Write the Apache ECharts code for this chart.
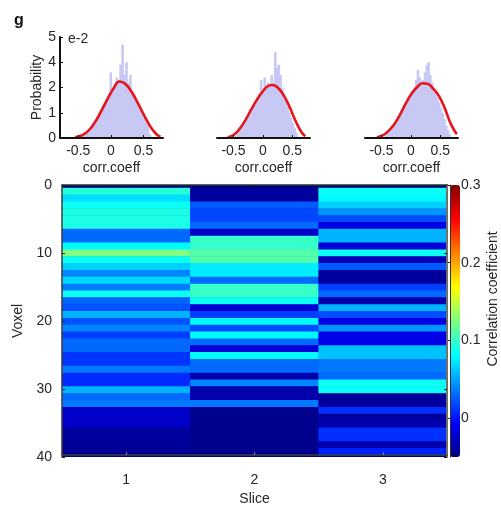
<!DOCTYPE html>
<html>
<head>
<meta charset="utf-8">
<title>Correlation coefficient per voxel and slice</title>
<script src="https://cdn.jsdelivr.net/npm/echarts@6/dist/echarts.min.js"></script>
<style>
  html, body { margin: 0; padding: 0; background: #fff; }
  #main { width: 501px; height: 511px; }
</style>
</head>
<body>
<div id="main"></div>
<script>
// ---- values ----
// histogram y ticks as printed (x1e-2)
var probTickLabels = ['0', '1', '2', '4', '5'];
var corrTicks = [-0.5, 0, 0.5];

// slice 1 histogram (bin centres / probability in tick units)
var bins1 = [-0.48, -0.45, -0.42, -0.39, -0.36, -0.33, -0.30, -0.27, -0.24, -0.21, -0.18, -0.15, -0.12,
  -0.09, -0.06, -0.03, 0.00, 0.03, 0.06, 0.09, 0.12, 0.15, 0.18, 0.21, 0.24, 0.27, 0.30, 0.33, 0.36,
  0.39, 0.42, 0.45, 0.48, 0.51, 0.54, 0.57, 0.60];
var prob1 = [0.05, 0.08, 0.12, 0.15, 0.2, 0.25, 0.3, 0.62, 0.75, 0.85, 1.0, 1.1, 1.3,
  1.4, 1.55, 1.7, 2.6, 1.95, 2.1, 2.4, 2.3, 2.9, 3.7, 2.5, 3.0, 2.2, 2.5, 1.8, 1.6,
  1.45, 1.3, 1.1, 0.95, 0.8, 0.65, 0.5, 0.15];
var fitX1 = [-0.55, -0.45, -0.35, -0.25, -0.15, -0.05, 0.05, 0.13, 0.22, 0.32, 0.42, 0.52, 0.62, 0.70, 0.76];
var fitY1 = [0.03, 0.1, 0.27, 0.6, 1.05, 1.55, 2.0, 2.24, 2.15, 1.82, 1.35, 0.85, 0.4, 0.15, 0.05];

// slice 2 histogram
var bins2 = [-0.48, -0.45, -0.42, -0.39, -0.36, -0.33, -0.30, -0.27, -0.24, -0.21, -0.18, -0.15, -0.12,
  -0.09, -0.06, -0.03, 0.00, 0.03, 0.06, 0.09, 0.12, 0.15, 0.18, 0.21, 0.24, 0.27, 0.30, 0.33, 0.36,
  0.39, 0.42, 0.45, 0.48, 0.51, 0.54, 0.57, 0.60];
var prob2 = [0.05, 0.1, 0.2, 0.3, 0.45, 0.55, 0.7, 0.85, 1.0, 1.15, 1.25, 1.35, 1.45,
  1.6, 1.75, 2.3, 1.9, 2.4, 2.0, 2.2, 2.1, 2.5, 2.2, 3.4, 2.8, 2.9, 2.5, 2.0, 1.7,
  1.5, 1.25, 1.0, 0.8, 0.6, 0.4, 0.2, 0.05];
var fitX2 = [-0.60, -0.50, -0.40, -0.30, -0.20, -0.10, 0.00, 0.08, 0.16, 0.25, 0.35, 0.45, 0.55, 0.65, 0.72];
var fitY2 = [0.03, 0.12, 0.35, 0.7, 1.12, 1.52, 1.85, 2.05, 2.1, 2.0, 1.7, 1.25, 0.7, 0.25, 0.07];

// slice 3 histogram
var bins3 = [-0.45, -0.42, -0.39, -0.36, -0.33, -0.30, -0.27, -0.24, -0.21, -0.18, -0.15, -0.12, -0.09,
  -0.06, -0.03, 0.00, 0.03, 0.06, 0.09, 0.12, 0.15, 0.18, 0.21, 0.24, 0.27, 0.30, 0.33, 0.36, 0.39,
  0.42, 0.45, 0.48, 0.51, 0.54, 0.57, 0.60, 0.63, 0.66];
var prob3 = [0.05, 0.1, 0.2, 0.3, 0.4, 0.5, 0.6, 0.75, 0.9, 1.0, 1.15, 1.3, 1.4,
  1.55, 1.65, 1.8, 1.9, 2.0, 2.3, 2.7, 2.4, 2.2, 2.3, 2.6, 2.9, 3.0, 2.5, 2.2, 2.0,
  1.8, 1.6, 1.4, 1.2, 1.0, 0.75, 0.5, 0.3, 0.15];
var fitX3 = [-0.58, -0.48, -0.38, -0.28, -0.18, -0.08, 0.02, 0.12, 0.20, 0.28, 0.38, 0.48, 0.58, 0.68, 0.78];
var fitY3 = [0.03, 0.1, 0.28, 0.55, 0.95, 1.4, 1.78, 2.05, 2.17, 2.15, 1.95, 1.65, 1.15, 0.55, 0.15];

// heatmap: correlation coefficient per voxel row (top to bottom) for each slice
var sliceLabels = ['1', '2', '3'];
var corrSlice1 = [0.095, 0.07, 0.085, 0.09, 0.09, 0.09, 0.03, 0.03, 0.08, 0.125, 0.085, 0.065, 0.04,
  0.068, 0.036, 0.085, 0.028, 0.022, 0.055, 0.022, 0.04, 0.015, 0.03, 0.03, 0.012, 0.012, 0.035,
  0.008, 0.008, 0.055, 0.03, 0.035, -0.025, -0.025, -0.025, -0.04, -0.04, -0.042, -0.042];
var corrSlice2 = [-0.04, -0.04, 0.025, 0.018, 0.018, 0.03, -0.025, 0.1, 0.1, 0.11, 0.11, 0.075, 0.075,
  0.03, 0.1, 0.1, 0.085, -0.02, 0.015, 0.08, 0.02, 0.08, 0.03, -0.02, 0.08, 0.03, 0.03,
  -0.035, 0.04, -0.035, -0.035, 0.035, -0.045, -0.045, -0.045, -0.045, -0.045, -0.045, -0.045];
var corrSlice3 = [0.085, 0.08, 0.065, 0.045, 0.02, -0.015, 0.055, 0.055, -0.02, 0.085, -0.03, 0.025, -0.04,
  -0.04, 0.015, 0.03, -0.035, 0.055, 0.02, -0.015, 0.045, -0.015, -0.015, 0.06, 0.06, 0.035, 0.035,
  0.03, 0.085, 0.085, -0.04, -0.04, 0.01, -0.04, -0.035, 0.01, 0.01, -0.035, 0.005];
var colorbarTicks = [0, 0.1, 0.2, 0.3];

// ---- chart ----
var chart = echarts.init(document.getElementById('main'), null, { renderer: 'canvas' });

var font = 'Liberation Sans, Arial, sans-serif';
var ink = '#262626';
var jet = ['#000080', '#0000ff', '#0080ff', '#00ffff', '#80ff80', '#ffff00', '#ff8000', '#ff0000', '#800000'];

function pairs(xs, ys) {
  return xs.map(function (x, i) { return [x, ys[i]]; });
}
function corrFmt(v) {
  return v === 0 ? '0' : String(v);
}

var corrColumns = [corrSlice1, corrSlice2, corrSlice3];
var voxelLabels = corrSlice1.map(function (v, i) { return String(i + 1); });
var heatData = [];
corrColumns.forEach(function (col, s) {
  col.forEach(function (v, r) { heatData.push([s, r, v]); });
});

// small histogram panels
var histBoxes = [
  { left: 60, top: 37, width: 103, height: 101 },
  { left: 217, top: 37, width: 93, height: 101 },
  { left: 365, top: 37, width: 93, height: 101 }
];
var histBins = [[bins1, prob1], [bins2, prob2], [bins3, prob3]];
var histFits = [[fitX1, fitY1], [fitX2, fitY2], [fitX3, fitY3]];

var grids = histBoxes.slice();
grids.push({ left: 62, top: 188, width: 385, height: 269 });                              // 3 cells
grids.push({ left: 62, top: 185, width: 385, height: 272, show: true,
  backgroundColor: '#00007a', borderWidth: 0 });                                           // 4 frame
grids.push({ left: 450, top: 185, width: 10, height: 272 });                              // 5 colorbar

var xAxes = [], yAxes = [], series = [];

histBoxes.forEach(function (b, i) {
  xAxes.push({
    gridIndex: i, type: 'value', min: -0.78, max: 0.8, z: 5,
    axisLine: { show: true, onZero: false, lineStyle: { color: '#111', width: 2 } },
    axisTick: { show: true, inside: true, length: 3, customValues: corrTicks, lineStyle: { color: '#111' } },
    axisLabel: { customValues: corrTicks, formatter: corrFmt, margin: 6, color: ink, fontSize: 14, fontFamily: font },
    splitLine: { show: false },
    name: 'corr.coeff', nameLocation: 'middle', nameGap: 23,
    nameTextStyle: { color: ink, fontSize: 14, fontFamily: font }
  });
  yAxes.push({
    gridIndex: i, type: 'value', min: 0, max: 4, interval: 1, show: i === 0, z: 5,
    axisLine: { show: true, onZero: false, lineStyle: { color: '#111', width: 2 } },
    axisTick: { show: true, inside: true, length: 3, lineStyle: { color: '#111' } },
    axisLabel: { formatter: function (v) { return probTickLabels[v]; }, margin: 4, color: ink, fontSize: 14, fontFamily: font },
    splitLine: { show: false },
    name: 'Probability', nameLocation: 'middle', nameGap: 16,
    nameTextStyle: { color: ink, fontSize: 14, fontFamily: font }
  });
  series.push({
    type: 'bar', xAxisIndex: i, yAxisIndex: i, barWidth: 2.6, silent: true,
    itemStyle: { color: '#c8c8f4' },
    data: pairs(histBins[i][0], histBins[i][1])
  });
  series.push({
    type: 'line', xAxisIndex: i, yAxisIndex: i, smooth: true, showSymbol: false, silent: true, z: 3,
    lineStyle: { color: '#e8141c', width: 2.6 },
    data: pairs(histFits[i][0], histFits[i][1])
  });
});

// heatmap cells
xAxes.push({
  gridIndex: 3, type: 'category', data: sliceLabels, position: 'bottom', z: 5,
  axisLine: { show: true, lineStyle: { color: '#404040', width: 1.5 } },
  axisTick: { show: true, inside: true, alignWithLabel: true, length: 3, lineStyle: { color: '#888' } },
  axisLabel: { margin: 18, color: ink, fontSize: 14, fontFamily: font },
  name: 'Slice', nameLocation: 'middle', nameGap: 36,
  nameTextStyle: { color: ink, fontSize: 14, fontFamily: font }
});
yAxes.push({ gridIndex: 3, type: 'category', data: voxelLabels, inverse: true, show: false });

// frame of the heatmap
xAxes.push({
  gridIndex: 4, type: 'category', data: sliceLabels, position: 'top', z: 5,
  axisLine: { show: true, lineStyle: { color: '#303030', width: 1.5 } },
  axisTick: { show: true, inside: true, alignWithLabel: true, length: 3, lineStyle: { color: '#222' } },
  axisLabel: { show: false }
});
yAxes.push({
  gridIndex: 4, type: 'value', min: 0, max: 40, interval: 10, inverse: true, position: 'left', z: 5,
  axisLine: { show: true, lineStyle: { color: '#404040', width: 1.5 } },
  axisTick: { show: true, inside: true, length: 3, lineStyle: { color: '#222' } },
  axisLabel: { margin: 10, color: ink, fontSize: 14, fontFamily: font },
  splitLine: { show: false },
  name: 'Voxel', nameLocation: 'middle', nameGap: 27,
  nameTextStyle: { color: ink, fontSize: 14, fontFamily: font }
});
yAxes.push({
  gridIndex: 4, type: 'value', min: 0, max: 40, interval: 10, inverse: true, position: 'right', z: 5,
  axisLine: { show: true, lineStyle: { color: '#707070', width: 2 } },
  axisTick: { show: true, inside: true, length: 3, lineStyle: { color: '#222' } },
  axisLabel: { show: false },
  splitLine: { show: false }
});

// colorbar axis
xAxes.push({ gridIndex: 5, type: 'value', min: 0, max: 1, show: false });
yAxes.push({
  gridIndex: 5, type: 'value', min: -0.05, max: 0.3, position: 'right', z: 5,
  axisLine: { show: true, lineStyle: { color: '#333', width: 1 } },
  axisTick: { show: true, inside: true, length: 2, customValues: colorbarTicks, lineStyle: { color: '#222' } },
  axisLabel: {
    customValues: colorbarTicks, margin: 3, color: ink, fontSize: 14, fontFamily: font,
    formatter: function (v) { return v === 0 ? '0' : v.toFixed(1); }
  },
  splitLine: { show: false },
  name: 'Correlation coefficient', nameLocation: 'middle', nameGap: 28,
  nameTextStyle: { color: ink, fontSize: 14, fontFamily: font, padding: [0, 0, 0, 44] }
});

series.push({
  type: 'heatmap', xAxisIndex: 3, yAxisIndex: 3, silent: true,
  itemStyle: { borderWidth: 0 },
  data: heatData
});

var option = {
  animation: false,
  backgroundColor: '#fff',
  textStyle: { fontFamily: font },
  title: [
    { text: 'g', left: 9, top: 8, textStyle: { fontSize: 16, fontWeight: 'bold', color: '#111', fontFamily: font } },
    { text: 'e-2', left: 63, top: 27, textStyle: { fontSize: 14, fontWeight: 'normal', color: ink, fontFamily: font } }
  ],
  grid: grids,
  xAxis: xAxes,
  yAxis: yAxes,
  visualMap: {
    type: 'continuous', min: -0.05, max: 0.3, seriesIndex: 6, dimension: 2,
    orient: 'vertical', left: 450, top: 185, itemWidth: 10, itemHeight: 272,
    padding: 0, text: null, calculable: false, hoverLink: false,
    inRange: { color: jet }
  },
  series: series
};

chart.setOption(option);
</script>
</body>
</html>
